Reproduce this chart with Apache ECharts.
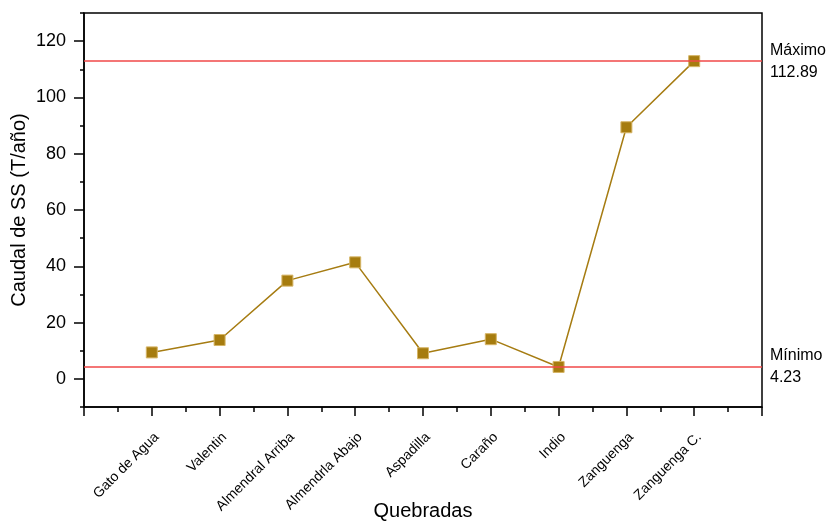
<!DOCTYPE html>
<html>
<head>
<meta charset="utf-8">
<script src="https://cdn.jsdelivr.net/npm/echarts@6/dist/echarts.min.js"></script>
<style>html,body{margin:0;padding:0;background:#fff}#c{width:829px;height:521px}</style>
</head>
<body>
<div id="c"></div>
<script>
var categories = ['Gato de Agua','Valentin','Almendral Arriba','Almendrla Abajo','Aspadilla','Caraño','Indio','Zanguenga','Zanguenga C.'];
var values = [9.4, 13.8, 34.9, 41.4, 9.1, 14.1, 4.23, 89.4, 112.89];
var maxValue = 112.89;
var minValue = 4.23;
var yTicks = [0, 20, 40, 60, 80, 100, 120];
var yMinorTicks = [-10, 10, 30, 50, 70, 90, 110, 130];

var font = 'Arial, "Liberation Sans", sans-serif';
var chart = echarts.init(document.getElementById('c'));
var data = values.map(function(v, i){ return [i + 1, v]; });
var axisLineStyle = {color: '#000', width: 1.5};
chart.setOption({
  animation: false,
  grid: {left: 84, right: 67, top: 13, bottom: 114, show: true, borderColor: '#000', borderWidth: 1.5, outerBoundsMode: 'none', containLabel: false},
  xAxis: {
    type: 'value', min: 0, max: 10, interval: 1,
    name: 'Quebradas', nameLocation: 'middle', nameGap: 94, nameMoveOverlap: false,
    nameTextStyle: {fontSize: 20, color: '#000', fontFamily: font},
    splitLine: {show: false},
    axisLine: {onZero: false, lineStyle: axisLineStyle},
    axisTick: {inside: false, length: 9, lineStyle: axisLineStyle},
    minorTick: {show: true, splitNumber: 2, length: 5, lineStyle: axisLineStyle},
    axisLabel: {
      rotate: 45, margin: 23, fontSize: 14, color: '#000', fontFamily: font,
      align: 'right', verticalAlign: 'top',
      formatter: function(v){ var i = Math.round(v) - 1; return (i >= 0 && i < categories.length) ? categories[i] : ''; }
    }
  },
  yAxis: [{
    type: 'value', min: -10, max: 130,
    name: 'Caudal de SS (T/año)', nameLocation: 'middle', nameGap: 55, nameMoveOverlap: false,
    nameTextStyle: {fontSize: 20, color: '#000', fontFamily: font},
    splitLine: {show: false},
    axisLine: {onZero: false, lineStyle: axisLineStyle},
    axisTick: {length: 10, lineStyle: axisLineStyle, customValues: yTicks},
    axisLabel: {margin: 18, fontSize: 18, color: '#000', fontFamily: font, customValues: yTicks}
  }, {
    type: 'value', min: -10, max: 130, position: 'left',
    splitLine: {show: false},
    axisLine: {show: false},
    axisTick: {length: 4, lineStyle: axisLineStyle, customValues: yMinorTicks},
    axisLabel: {show: false}
  }],
  series: [{
    type: 'line', data: data, yAxisIndex: 0,
    symbol: 'rect', symbolSize: 11,
    lineStyle: {color: '#a67c12', width: 1.5},
    itemStyle: {color: '#a67c0f', borderColor: '#d6b566', borderWidth: 1},
    markLine: {
      silent: true, symbol: 'none',
      lineStyle: {color: '#f04848', width: 1.6, type: 'solid'},
      label: {position: 'end', distance: 8, fontSize: 16, color: '#000', fontFamily: font, lineHeight: 22, align: 'left'},
      data: [
        {yAxis: maxValue, label: {formatter: 'Máximo\n' + maxValue.toFixed(2)}},
        {yAxis: minValue, label: {formatter: 'Mínimo\n' + minValue.toFixed(2)}}
      ]
    }
  }]
});
</script>
</body>
</html>
